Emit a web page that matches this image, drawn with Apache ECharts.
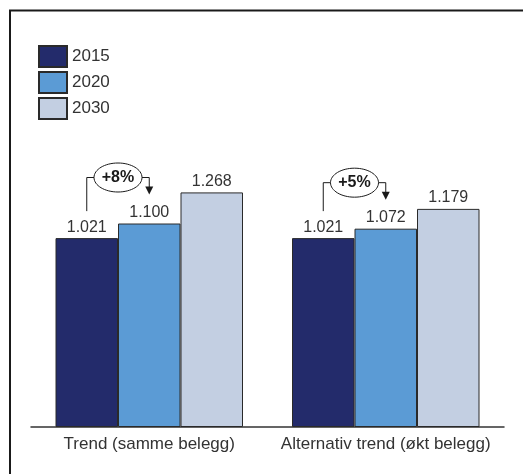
<!DOCTYPE html>
<html>
<head>
<meta charset="utf-8">
<script src="https://cdn.jsdelivr.net/npm/echarts@6/dist/echarts.min.js"></script>
<style>
  html, body { margin: 0; padding: 0; background: #fff; }
  #chart { width: 523px; height: 474px; }
</style>
</head>
<body>
<div id="chart"></div>
<script>
// Scenario categories and yearly values
const categories = ['Trend (samme belegg)', 'Alternativ trend (økt belegg)'];
const years = ['2015', '2020', '2030'];
const values2015 = [1.021, 1.021];
const values2020 = [1.100, 1.072];
const values2030 = [1.268, 1.179];
const growthLabels = ['+8%', '+5%'];

const colors = ['#232b6b', '#5b9bd5', '#c3cfe2'];
const FONT = '"Liberation Sans", Arial, sans-serif';
const BAR_W = 62.5;

const chart = echarts.init(document.getElementById('chart'), null, { renderer: 'canvas' });

const seriesValues = [values2015, values2020, values2030];

const fmt = v => v.toFixed(3);

chart.setOption({
  animation: false,
  textStyle: { fontFamily: FONT },
  grid: { left: 31, right: 19, top: 57, bottom: 47 },
  legend: {
    orient: 'vertical',
    left: 33,
    top: 40,
    itemWidth: 28,
    itemHeight: 21,
    itemGap: 3,
    icon: 'rect',
    textStyle: { fontSize: 17, color: '#333', fontFamily: FONT },
    data: years
  },
  xAxis: {
    type: 'category',
    data: categories,
    axisLine: { lineStyle: { color: '#333', width: 1.5 } },
    axisTick: { show: false },
    axisLabel: { interval: 0, fontSize: 17, color: '#333', margin: 9, fontFamily: FONT }
  },
  yAxis: {
    type: 'value',
    min: 0,
    max: 2,
    show: false,
    splitLine: { show: false }
  },
  series: years.map((y, i) => ({
    name: y,
    type: 'bar',
    barWidth: BAR_W,
    barGap: '0%',
    data: seriesValues[i],
    itemStyle: { color: colors[i], borderColor: '#2a2a2a', borderWidth: 1 },
    label: {
      show: true,
      position: 'top',
      distance: 3,
      fontSize: 16,
      color: '#333',
      fontFamily: FONT,
      formatter: p => fmt(p.value)
    }
  }))
});

// Growth brackets between the 2015 and 2020 bars of each scenario
function buildGraphics() {
  const els = [];
  // frame: top and left edges
  els.push({
    type: 'polyline',
    shape: { points: [[10, 474], [10, 10.5], [523, 10.5]] },
    style: { stroke: '#1a1a1a', lineWidth: 2, fill: null },
    silent: true
  });
  categories.forEach((c, i) => {
    const cx = chart.convertToPixel({ xAxisIndex: 0 }, i);
    const xd = cx - BAR_W;          // 2015 bar centre
    const xm = cx;                  // 2020 bar centre
    const darkTop = chart.convertToPixel({ yAxisIndex: 0 }, values2015[i]);
    const midTop = chart.convertToPixel({ yAxisIndex: 0 }, values2020[i]);
    const tip = midTop - 29;
    const hy = tip - 17;
    const ex = (xd + xm) / 2;
    const rx = 24, ry = 14.5;
    const stroke = '#1a1a1a';
    els.push({
      type: 'polyline',
      shape: { points: [[xd, darkTop - 27], [xd, hy], [ex - rx, hy]] },
      style: { stroke, lineWidth: 1, fill: null },
      silent: true
    });
    els.push({
      type: 'polyline',
      shape: { points: [[ex + rx, hy], [xm, hy], [xm, tip - 6]] },
      style: { stroke, lineWidth: 1, fill: null },
      silent: true
    });
    els.push({
      type: 'polygon',
      shape: { points: [[xm - 4, tip - 8], [xm + 4, tip - 8], [xm, tip]] },
      style: { fill: stroke },
      silent: true
    });
    els.push({
      type: 'ellipse',
      shape: { cx: ex, cy: hy, rx, ry },
      style: { fill: '#fff', stroke, lineWidth: 1 },
      silent: true
    });
    els.push({
      type: 'text',
      x: ex,
      y: hy,
      style: {
        text: growthLabels[i],
        fill: '#1a1a1a',
        font: 'bold 16px ' + FONT,
        align: 'center',
        verticalAlign: 'middle'
      },
      silent: true
    });
  });
  return els;
}

chart.setOption({ graphic: buildGraphics() });
</script>
</body>
</html>
